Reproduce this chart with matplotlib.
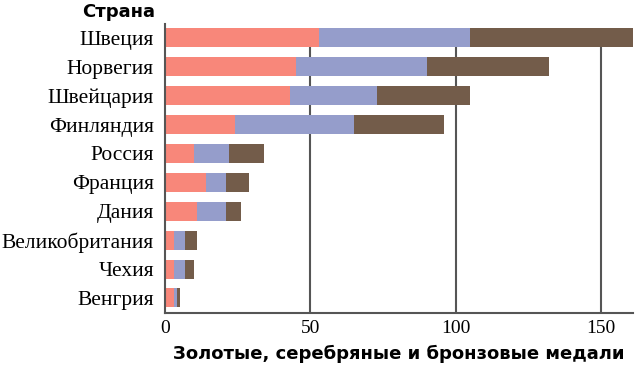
import numpy as np
import matplotlib
matplotlib.use("Agg")
import matplotlib.pyplot as plt

countries = ["Швеция", "Норвегия", "Швейцария", "Финляндия", "Россия",
             "Франция", "Дания", "Великобритания", "Чехия", "Венгрия"]
gold = [53, 45, 43, 24, 10, 14, 11, 3, 3, 3]
silver = [52, 45, 30, 41, 12, 7, 10, 4, 4, 1]
bronze = [56, 42, 32, 31, 12, 8, 5, 4, 3, 1]

c_gold = "#f8877a"
c_silver = "#959dcb"
c_bronze = "#735c4a"

fig = plt.figure(figsize=(6.41, 3.68), dpi=100)
ax = fig.add_axes([0.2574, 0.1495, 0.7301, 0.7853])

y = np.arange(len(countries))
g = np.array(gold)
s = np.array(silver)
b = np.array(bronze)
h = 0.66
ax.barh(y, g, height=h, color=c_gold, zorder=2)
ax.barh(y, s, left=g, height=h, color=c_silver, zorder=2)
ax.barh(y, b, left=g + s, height=h, color=c_bronze, zorder=2)

ybot = len(countries) - 0.48
ax.set_xlim(0, 161)
ax.set_ylim(ybot, -0.48)
ax.set_yticks(y)
ax.set_yticklabels(countries, fontfamily="Liberation Serif", fontsize=15.5)
ax.set_xticks([0, 50, 100, 150])
ax.set_xticklabels(["0", "50", "100", "150"], fontfamily="Liberation Serif", fontsize=14)
ax.tick_params(length=0, pad=5)
ax.tick_params(axis="y", pad=8)

# gridlines start just under the first bar
ax.vlines([50, 100, 150], 0, ybot, color="#555555", lw=1.5, zorder=1)

for side in ["top", "right"]:
    ax.spines[side].set_visible(False)
for side in ["left", "bottom"]:
    ax.spines[side].set_color("#555555")
    ax.spines[side].set_linewidth(1.5)

ax.set_xlabel("Золотые, серебряные и бронзовые медали", fontfamily="DejaVu Sans",
              fontsize=13, fontweight="bold", labelpad=6)
fig.text(155 / 641, 1 - 12 / 368, "Страна", ha="right", va="center",
         fontfamily="DejaVu Sans", fontsize=13, fontweight="bold")

fig.savefig("out.png", dpi=100)
